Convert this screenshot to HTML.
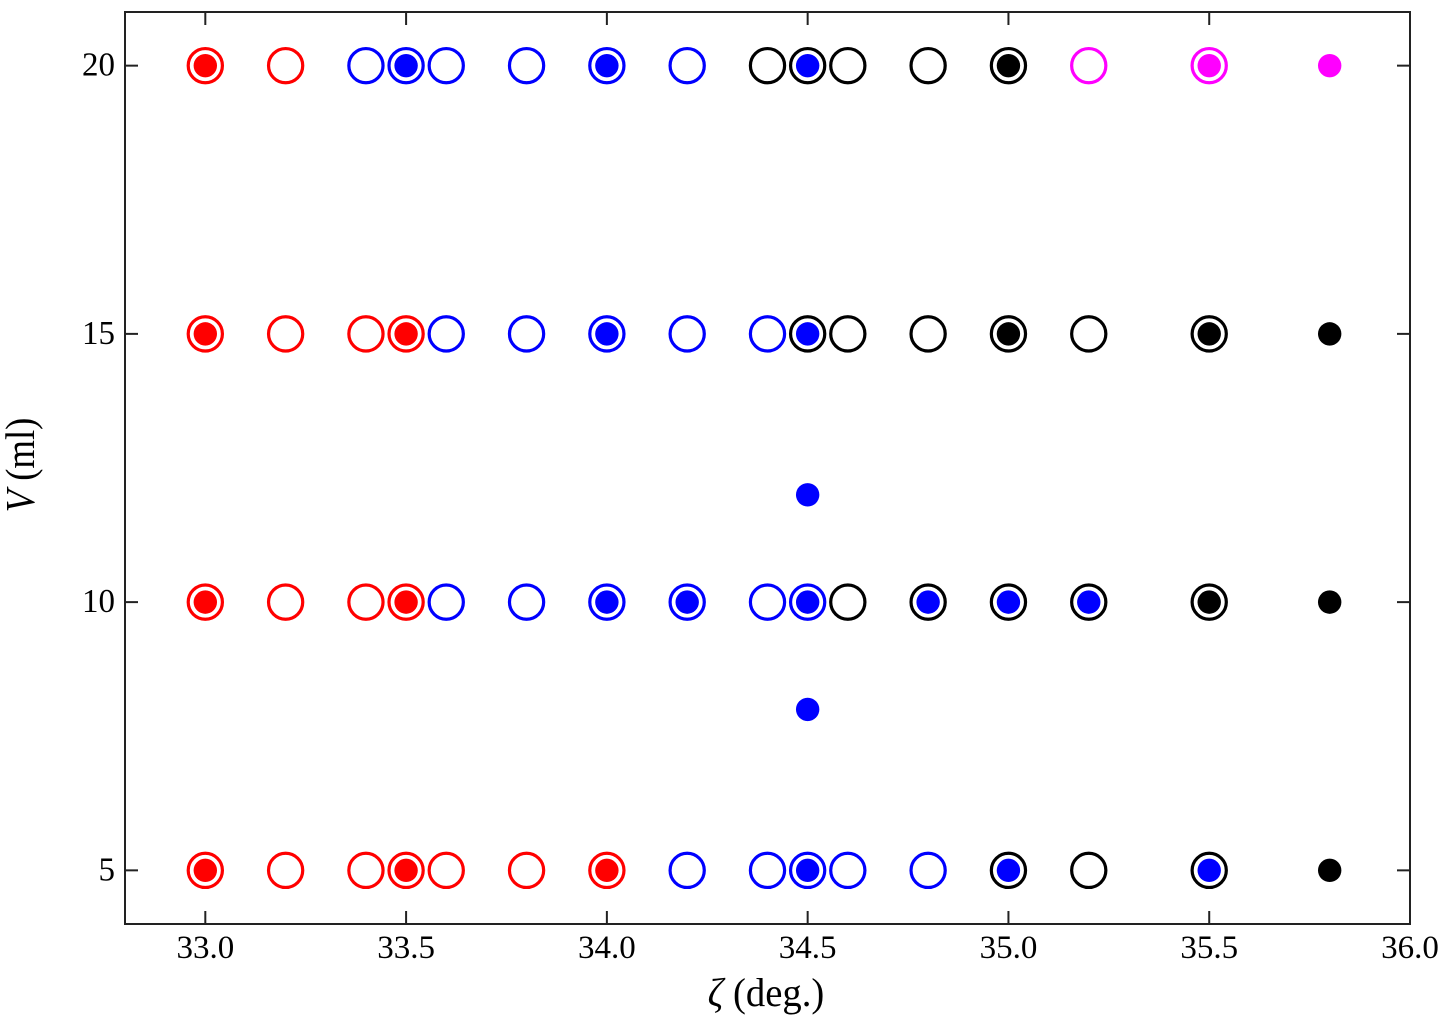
<!DOCTYPE html>
<html lang="en">
<head>
<meta charset="utf-8">
<title>Phase diagram of V against zeta</title>
<style>
html,body{margin:0;padding:0;background:#fff;}
svg{display:block;font-family:"Liberation Serif",serif;}
</style>
</head>
<body>
<svg id="chart" width="1439" height="1018" viewBox="0 0 1439 1018" xmlns="http://www.w3.org/2000/svg">
  <g id="ticks"></g>
  <g id="rings"></g>
  <g id="dots"></g>
  <rect x="125" y="12" width="1285" height="912" fill="none" stroke="#222" stroke-width="2"/>
  <text transform="translate(766 1006) scale(1.075 1.12)" font-size="36" text-anchor="middle" fill="#000"><tspan font-style="italic">ζ</tspan> (deg.)</text>
  <text transform="translate(34 465) rotate(-90) scale(1.02 1.15)" font-size="36" text-anchor="middle" fill="#000"><tspan font-style="italic">V</tspan> (ml)</text>
</svg>
<script>
const xTicks = ['33.0', '33.5', '34.0', '34.5', '35.0', '35.5', '36.0'];
const yTicks = ['5', '10', '15', '20'];

const ringZeta = [33.0, 33.2, 33.4, 33.5, 33.6, 33.8, 34.0, 34.2, 34.4, 34.5, 34.6, 34.8, 35.0, 35.2, 35.5];
const ringsV20 = ['red', 'red', 'blue', 'blue', 'blue', 'blue', 'blue', 'blue', 'black', 'black', 'black', 'black', 'black', 'magenta', 'magenta'];
const ringsV15 = ['red', 'red', 'red', 'red', 'blue', 'blue', 'blue', 'blue', 'blue', 'black', 'black', 'black', 'black', 'black', 'black'];
const ringsV10 = ['red', 'red', 'red', 'red', 'blue', 'blue', 'blue', 'blue', 'blue', 'blue', 'black', 'black', 'black', 'black', 'black'];
const ringsV5 = ['red', 'red', 'red', 'red', 'red', 'red', 'red', 'blue', 'blue', 'blue', 'blue', 'blue', 'black', 'black', 'black'];
const ringVolumes = [20, 15, 10, 5];
const ringRows = [ringsV20, ringsV15, ringsV10, ringsV5];

const dotZeta = [33.0, 33.5, 34.0, 34.5, 35.0, 35.5, 35.8, 33.0, 33.5, 34.0, 34.5, 35.0, 35.5, 35.8, 34.5, 33.0, 33.5, 34.0, 34.2, 34.5, 34.8, 35.0, 35.2, 35.5, 35.8, 34.5, 33.0, 33.5, 34.0, 34.5, 35.0, 35.5, 35.8];
const dotVolume = [20, 20, 20, 20, 20, 20, 20, 15, 15, 15, 15, 15, 15, 15, 12, 10, 10, 10, 10, 10, 10, 10, 10, 10, 10, 8, 5, 5, 5, 5, 5, 5, 5];
const dotColor = ['red', 'blue', 'blue', 'blue', 'black', 'magenta', 'magenta', 'red', 'red', 'blue', 'blue', 'black', 'black', 'black', 'blue', 'red', 'red', 'blue', 'blue', 'blue', 'blue', 'blue', 'blue', 'black', 'black', 'blue', 'red', 'red', 'red', 'blue', 'blue', 'blue', 'black'];

const NS = 'http://www.w3.org/2000/svg';
const plot = { left: 125, right: 1410, top: 12, bottom: 924 };
const domainX = [32.8, 36.0];
const domainY = [4, 21];
const colors = { red: '#ff0000', blue: '#0000ff', black: '#000000', magenta: '#ff00ff' };

function xScale(v) {
  return plot.left + (v - domainX[0]) / (domainX[1] - domainX[0]) * (plot.right - plot.left);
}
function yScale(v) {
  return plot.bottom - (v - domainY[0]) / (domainY[1] - domainY[0]) * (plot.bottom - plot.top);
}
function make(tag, attrs, parent) {
  const el = document.createElementNS(NS, tag);
  Object.keys(attrs).forEach(function (k) { el.setAttribute(k, attrs[k]); });
  parent.appendChild(el);
  return el;
}

const tickGroup = document.getElementById('ticks');
const ringGroup = document.getElementById('rings');
const dotGroup = document.getElementById('dots');
const tickStyle = { stroke: '#222', 'stroke-width': 2 };

xTicks.forEach(function (label) {
  const x = xScale(parseFloat(label));
  [[plot.bottom, plot.bottom - 13], [plot.top, plot.top + 13]].forEach(function (p) {
    const tick = make('line', Object.assign({ x1: x, x2: x, y1: p[0], y2: p[1] }, tickStyle), tickGroup);
    
    
  });
  const text = make('text', { x: x, y: 958, 'font-size': 33, 'text-anchor': 'middle', fill: '#000' }, tickGroup);
  text.textContent = label;
  
  
});

yTicks.forEach(function (label) {
  const y = yScale(parseFloat(label));
  [[plot.left, plot.left + 13], [plot.right, plot.right - 13]].forEach(function (p) {
    const tick = make('line', Object.assign({ x1: p[0], x2: p[1], y1: y, y2: y }, tickStyle), tickGroup);
    
    
  });
  const text = make('text', { transform: 'translate(115 ' + (y + 10) + ') scale(1 1.04)', 'font-size': 33, 'text-anchor': 'end', fill: '#000' }, tickGroup);
  text.textContent = label;
  
  
});

ringRows.forEach(function (row, r) {
  row.forEach(function (color, i) {
    const ring = make('circle', {
      cx: xScale(ringZeta[i]),
      cy: yScale(ringVolumes[r]),
      r: 17.1,
      fill: 'none',
      stroke: colors[color],
      'stroke-width': 3.2
    }, ringGroup);
    
    
  });
});

dotZeta.forEach(function (z, i) {
  const dot = make('circle', {
    cx: xScale(z),
    cy: yScale(dotVolume[i]),
    r: 11.7,
    fill: colors[dotColor[i]]
  }, dotGroup);
  
  
});
</script>
</body>
</html>
